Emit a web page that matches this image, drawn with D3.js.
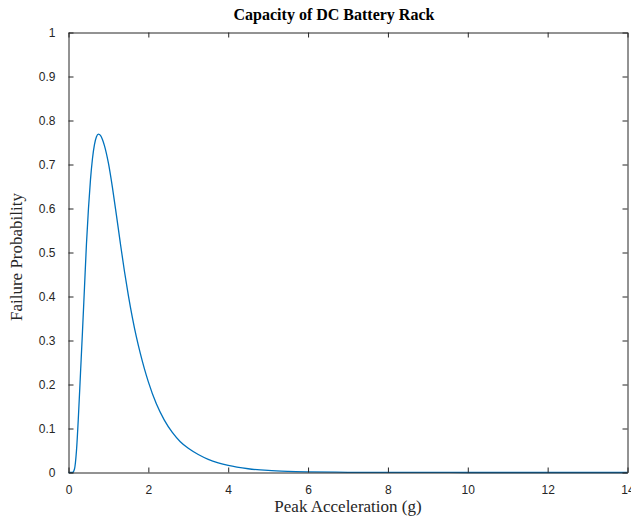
<!DOCTYPE html>
<html>
<head>
<meta charset="utf-8">
<script src="https://cdn.jsdelivr.net/npm/d3@7"></script>
<style>
  html, body { margin: 0; padding: 0; background: #fff; }
  svg { display: block; }
</style>
</head>
<body>
<svg id="chart" width="631" height="520"></svg>
<script>
// Fragility curve: peak acceleration (g) vs. failure probability
const accel = [0, 0.1, 0.15, 0.2, 0.25, 0.3, 0.35, 0.4, 0.45, 0.5, 0.55, 0.6, 0.65, 0.7, 0.75, 0.8,
  0.85, 0.9, 1.0, 1.1, 1.2, 1.3, 1.4, 1.5, 1.6, 1.7, 1.8, 1.9, 2.0, 2.2, 2.4, 2.6, 2.8, 3.0, 3.25, 3.5,
  3.75, 4.0, 4.5, 5.0, 5.5, 6.0, 7.0, 8.0, 9.0, 10.0, 12.0, 14.0];
const failProb = [0, 0, 0.008, 0.05, 0.13, 0.225, 0.32, 0.42, 0.52, 0.60, 0.665, 0.713, 0.745, 0.763, 0.769, 0.766,
  0.757, 0.743, 0.703, 0.648, 0.585, 0.52, 0.458, 0.402, 0.352, 0.308, 0.27, 0.236, 0.206, 0.156, 0.119, 0.091, 0.070, 0.055, 0.041, 0.030,
  0.022, 0.016, 0.0085, 0.0046, 0.0026, 0.0015, 0.0005, 0.0002, 0.0001, 0.00003, 0, 0];
const xTicks = [0, 2, 4, 6, 8, 10, 12, 14];
const yTicks = [0, 0.1, 0.2, 0.3, 0.4, 0.5, 0.6, 0.7, 0.8, 0.9, 1];

const titleText = "Capacity of DC Battery Rack";
const xLabel = "Peak Acceleration (g)";
const yLabel = "Failure Probability";

const svg = d3.select("#chart");
const plotL = 68.5, plotR = 627.5, plotT = 32.5, plotB = 472.5;
const axisColor = "#262626";

const x = d3.scaleLinear().domain([0, 14]).range([plotL, plotR]);
const y = d3.scaleLinear().domain([0, 1]).range([plotB, plotT]);

const tickFont = "'Liberation Sans', Arial, Helvetica, sans-serif";
const serif = "'Liberation Serif', 'Times New Roman', Times, serif";

// Curve
const pts = accel.map((a, i) => [a, failProb[i]]);
svg.append("path")
  .datum(pts)
  .attr("fill", "none")
  .attr("stroke", "#0072BD")
  .attr("stroke-width", 1.3)
  .attr("d", d3.line().x(d => x(d[0])).y(d => y(d[1])).curve(d3.curveMonotoneX));

// Axes with inward ticks, mirrored on the top and right edges
function styleAxis(g) {
  g.select(".domain").attr("stroke", axisColor).attr("stroke-width", 1);
  g.selectAll(".tick line").attr("stroke", axisColor).attr("stroke-width", 1);
  g.selectAll(".tick text").attr("fill", axisColor)
    .style("font-family", tickFont).style("font-size", "12px");
}

svg.append("g").attr("transform", `translate(0,${plotB})`)
  .call(d3.axisBottom(x).tickValues(xTicks).tickFormat(d3.format("d"))
    .tickSizeInner(-5).tickSizeOuter(0).tickPadding(13))
  .call(styleAxis);

svg.append("g").attr("transform", `translate(0,${plotT})`)
  .call(d3.axisTop(x).tickValues(xTicks).tickFormat("")
    .tickSizeInner(-5).tickSizeOuter(0))
  .call(styleAxis);

svg.append("g").attr("transform", `translate(${plotL},0)`)
  .call(d3.axisLeft(y).tickValues(yTicks).tickFormat(d => d === 0 || d === 1 ? String(d) : d3.format(".1f")(d))
    .tickSizeInner(-5).tickSizeOuter(0).tickPadding(13))
  .call(styleAxis);

svg.append("g").attr("transform", `translate(${plotR},0)`)
  .call(d3.axisRight(y).tickValues(yTicks).tickFormat("")
    .tickSizeInner(-5).tickSizeOuter(0))
  .call(styleAxis);

// Title and axis labels
svg.append("text")
  .attr("x", 334).attr("y", 20)
  .attr("text-anchor", "middle")
  .attr("fill", "#000")
  .style("font-family", serif).style("font-size", "16px").style("font-weight", "bold")
  .text(titleText);

svg.append("text")
  .attr("x", (plotL + plotR) / 2).attr("y", 512)
  .attr("text-anchor", "middle")
  .attr("fill", axisColor)
  .style("font-family", serif).style("font-size", "17px")
  .text(xLabel);

svg.append("text")
  .attr("transform", `translate(22,257) rotate(-90)`)
  .attr("text-anchor", "middle")
  .attr("fill", axisColor)
  .style("font-family", serif).style("font-size", "17px")
  .text(yLabel);
</script>
</body>
</html>
